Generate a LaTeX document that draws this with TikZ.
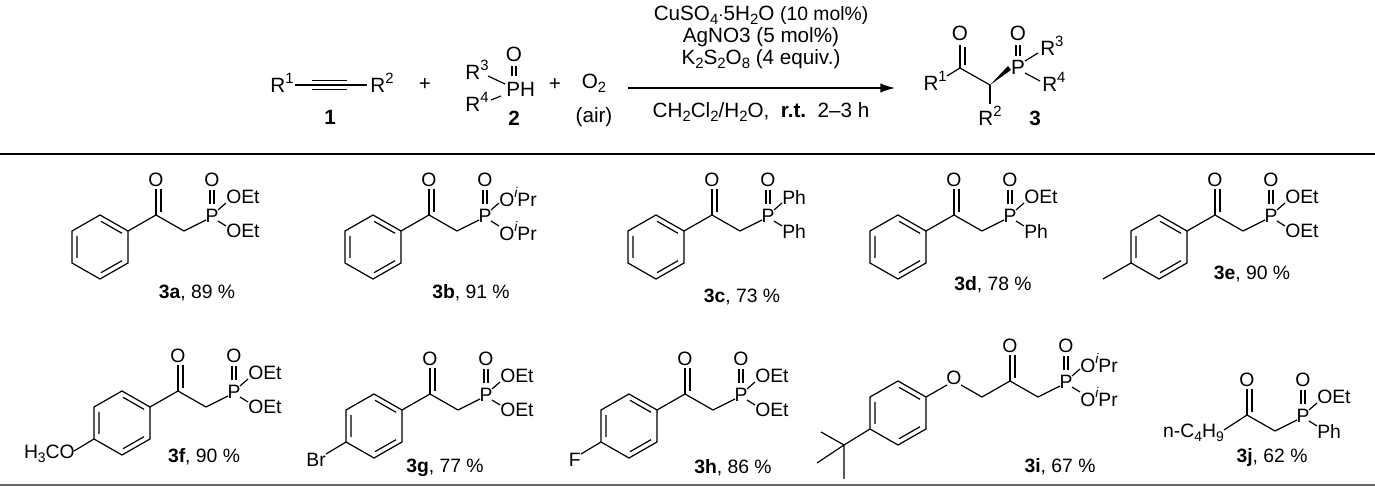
\documentclass[tikz,border=0pt]{standalone}
\usepackage{fontspec}
\setmainfont{Liberation Sans}
\usetikzlibrary{arrows.meta}
\newcommand\cf{\fontsize{14.5}{16}\selectfont}
\newcommand\hf{\fontsize{15.5}{17}\selectfont}
\newcommand\sbs[1]{\raisebox{-0.35ex}{\scalebox{0.72}{#1}}}
\newcommand\sps[1]{\raisebox{0.85ex}{\scalebox{0.72}{#1}}}
\newcommand\iPr{O\sps{\itshape i}Pr}
\tikzset{bond/.style={line width=0.9pt},
  atom/.style={inner sep=0pt,font=\cf},
  hatom/.style={inner sep=0pt,font=\hf},
  lbl/.style={inner sep=0pt,font=\cf}}
\newcommand\Ring{%
 \draw[bond] (0,-32)--(28,-16)--(28,16)--(0,32)--(-28,16)--(-28,-16)--cycle;
 \draw[bond] (-23,-11)--(-23,11) (1,-25.7)--(22,-13.7) (22,13.7)--(1,25.7);}
\newcommand\Keto[2]{% x of carbonyl C, name
 \node[atom] (#2O) at (#1,-67) {O};
 \draw[bond] (#1,-32)--(#1,-58) (#1+5,-35)--(#1+5,-58);}
\newcommand\Pgrp[4]{% x of P, name, upper, lower
 \node[atom] (#2P) at (#1,-31) {P};
 \node[atom] (#2PO) at (#1,-67) {O};
 \draw[bond] (#1-2,-43)--(#1-2,-57) (#1+2,-43)--(#1+2,-57);
 \draw[bond] (#1-28,-16)--(#1-6,-27);
 \draw[bond] (#1+6,-37)--(#1+14,-44);
 \draw[bond] (#1+6,-26)--(#1+14,-21);
 \node[atom,anchor=west] (#2U) at (#1+14,-50) {#3};
 \node[atom,anchor=west] (#2L) at (#1+14,-16) {#4};}
\newcommand\Aryl[3]{% name, upper, lower
 \Ring
 \draw[bond] (28,-16)--(56,-32)--(84,-16);
 \Keto{56}{#1}
 \Pgrp{112}{#1}{#2}{#3}}
\begin{document}
\begin{tikzpicture}[x=0.75pt,y=-0.75pt]
\useasboundingbox (0,0) rectangle (1375,491);
% ---------- reaction ----------
\node[hatom] (r1) at (282,83) {R\sps{1}};
\node[hatom] (r2) at (382,83) {R\sps{2}};
\draw[bond] (295,85)--(367,85);
\draw[bond] (312,80.5)--(347,80.5) (312,89.5)--(347,89.5);
\node[hatom,font=\hf\bfseries] (n1) at (330,117) {1};
\node[hatom] (plus1) at (425,85) {+};
\node[hatom] (r3) at (477,70) {R\sps{3}};
\node[hatom] (r4) at (477,102) {R\sps{4}};
\node[hatom,anchor=west] (ph) at (506,89) {PH};
\node[hatom] (o2p) at (514,54) {O};
\draw[bond] (512,66)--(512,76) (516,66)--(516,76);
\draw[bond] (488,76)--(505,84);
\draw[bond] (491,100)--(501,96);
\node[hatom,font=\hf\bfseries] (n2) at (514,118) {2};
\node[hatom] (plus2) at (555,85) {+};
\node[hatom] (o2) at (594,83) {O\sbs{2}};
\node[hatom] (air) at (594,117) {(air)};
\draw[line width=1pt,-{Latex[length=11pt,width=7pt]}] (628,88) -- (895,88);
\node[hatom] (c1) at (761,15) {CuSO\sbs{4}$\cdot$5H\sbs{2}O \fontsize{14.5}{16}\selectfont(10 mol\%)};
\node[hatom] (c2) at (761,37) {AgNO3 (5 mol\%)};
\node[hatom] (c3) at (761,59) {K\sbs{2}S\sbs{2}O\sbs{8} (4 equiv.)};
\node[hatom] (c4) at (761,112) {CH\sbs{2}Cl\sbs{2}/H\sbs{2}O,\ \ \textbf{r.t.}\ \ 2--3 h};
% product 3
\node[hatom] (pO) at (960,33) {O};
\draw[line width=2.2pt] (960,45)--(960,68);
\draw[bond] (965,47)--(965,65);
\node[hatom,anchor=east] (pR1) at (947,81) {R\sps{1}};
\draw[bond] (947,76)--(960,68)--(990,85);
\fill (990,85)--(1011,70)--(1008,66)--cycle;
\draw[bond] (990,85)--(990,104);
\node[hatom] (pR2) at (990,116) {R\sps{2}};
\node[hatom,font=\hf\bfseries] (n3) at (1035,118) {3};
\node[hatom] (pP) at (1018,67) {P};
\node[hatom] (pPO) at (1018,33) {O};
\draw[bond] (1016,45)--(1016,56) (1020,45)--(1020,56);
\draw[bond] (1025,61)--(1038,53) (1025,73)--(1040,81);
\node[hatom,anchor=west] (pR3) at (1040,46) {R\sps{3}};
\node[hatom,anchor=west] (pR4) at (1042,82) {R\sps{4}};
% rules
\draw[line width=1pt] (0,154)--(1375,154);
\draw[line width=2pt,black!60] (0,485)--(1375,485);
% ---------- row 1 ----------
\begin{scope}[shift={(100,247)}] \Aryl{a}{OEt}{OEt} \end{scope}
\node[lbl] (la) at (197,293) {\textbf{3a}, 89 \%};
\begin{scope}[shift={(373,247)}] \Aryl{b}{\iPr}{\iPr} \end{scope}
\node[lbl] (lb) at (471,293) {\textbf{3b}, 91 \%};
\begin{scope}[shift={(656,247)}] \Aryl{c}{Ph}{Ph} \end{scope}
\node[lbl] (lc) at (742,297) {\textbf{3c}, 73 \%};
\begin{scope}[shift={(898,247)}] \Aryl{d}{OEt}{Ph} \end{scope}
\node[lbl] (ld) at (993,285) {\textbf{3d}, 78 \%};
\begin{scope}[shift={(1159,247)}] \Aryl{e}{OEt}{OEt}
 \draw[bond] (-28,16)--(-56,32); \end{scope}
\node[lbl] (le) at (1252,274) {\textbf{3e}, 90 \%};
% ---------- row 2 ----------
\begin{scope}[shift={(122,423)}] \Aryl{f}{OEt}{OEt}
 \draw[bond] (-28,16)--(-48,28);
 \node[atom,anchor=east] (fs) at (-47,31) {H\sbs{3}CO}; \end{scope}
\node[lbl] (lf) at (204,457) {\textbf{3f}, 90 \%};
\begin{scope}[shift={(374,426)}] \Aryl{g}{OEt}{OEt}
 \draw[bond] (-28,16)--(-48,28);
 \node[atom,anchor=east] (gs) at (-48,34) {Br}; \end{scope}
\node[lbl] (lg) at (445,468) {\textbf{3g}, 77 \%};
\begin{scope}[shift={(629,426)}] \Aryl{h}{OEt}{OEt}
 \draw[bond] (-28,16)--(-48,28);
 \node[atom,anchor=east] (hs) at (-48,34) {F}; \end{scope}
\node[lbl] (lh) at (733,468) {\textbf{3h}, 86 \%};
\begin{scope}[shift={(898,413)}]
 \Ring
 \node[atom] (iOe) at (56,-35) {O};
 \draw[bond] (28,-16)--(49,-28) (63,-28)--(84,-16)--(112,-32)--(140,-16);
 \Keto{112}{i}
 \Pgrp{168}{i}{\iPr}{\iPr}
 \draw[bond] (-28,16)--(-54,32) (-54,32)--(-77,19) (-54,32)--(-81,50) (-54,32)--(-54,66);
\end{scope}
\node[lbl] (li) at (1060,467) {\textbf{3i}, 67 \%};
% 3j
\begin{scope}[shift={(1247,447)}]
 \draw[bond] (-23,-17)--(0,-32)--(28,-16);
 \Keto{0}{j}
 \Pgrp{56}{j}{OEt}{Ph}
 \node[atom,anchor=east] (js) at (-23,-14) {n-C\sbs{4}H\sbs{9}};
\end{scope}
\node[lbl] (lj) at (1272,458) {\textbf{3j}, 62 \%};
\end{tikzpicture}
\end{document}
